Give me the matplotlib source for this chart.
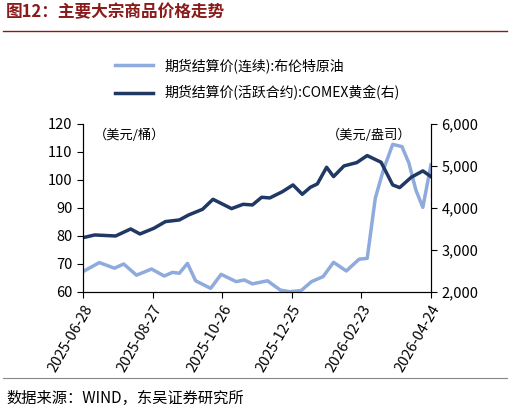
import matplotlib
matplotlib.use("Agg")
import matplotlib.pyplot as plt
import pandas as pd

plt.rcParams['font.family'] = ['Noto Sans CJK SC', 'DejaVu Sans']

start = pd.Timestamp('2025-06-28')
oil_days = [0,14,27,35,46,59,70,77,83,90,97,110,119,132,139,146,159,170,178,188,197,207,216,227,238,245,252,259,267,275,281,287,293,300]
oil_vals = [67.3,70.5,68.5,70,66,68.2,65.7,67,66.7,70.2,64,61.3,66.3,63.7,64.3,62.9,64,60.7,60.1,60.5,63.7,65.5,70.6,67.5,71.7,72,93.5,103.6,112.7,111.9,106,96.4,90.2,105.4]
gold_days = [0,10,28,41,49,61,71,83,91,103,112,128,138,146,154,161,172,181,189,196,202,210,216,225,236,245,257,267,273,283,293,300]
gold_vals = [3294,3357,3333,3500,3381,3516,3675,3714,3833,3968,4206,3984,4087,4071,4254,4238,4389,4548,4325,4492,4571,4968,4746,5000,5079,5246,5087,4548,4484,4730,4881,4746]
tick_labels = ['2025-06-28','2025-08-27','2025-10-26','2025-12-25','2026-02-23','2026-04-24']
oil_name = '期货结算价(连续):布伦特原油'
gold_name = '期货结算价(活跃合约):COMEX黄金(右)'

oil_x = start + pd.to_timedelta(oil_days, unit='D')
gold_x = start + pd.to_timedelta(gold_days, unit='D')

fig = plt.figure(figsize=(5.10, 4.13), dpi=100)
ax = fig.add_axes([0.163, 0.293, 0.682, 0.407])
ax2 = ax.twinx()
l1, = ax.plot(oil_x, oil_vals, color='#8FAADC', lw=2.5, solid_joinstyle='round')
l2, = ax2.plot(gold_x, gold_vals, color='#1F3864', lw=2.5, solid_joinstyle='round')
ax.set_ylim(60, 120); ax.set_yticks(range(60, 121, 10))
ax2.set_ylim(2000, 6000); ax2.set_yticks(range(2000, 6001, 1000))
ax2.set_yticklabels(['2,000','3,000','4,000','5,000','6,000'])
ticks = pd.to_datetime(tick_labels)
ax.set_xlim(ticks[0], ticks[-1])
ax.set_xticks(ticks)
ax.set_xticklabels(tick_labels, rotation=60, ha='right', rotation_mode='anchor', fontsize=10.5)
for a in (ax, ax2):
    a.spines['top'].set_visible(False)
    a.tick_params(labelsize=10.5, direction='out', length=4)
ax.text(0.03, 0.97, '（美元/桶）', transform=ax.transAxes, fontsize=9.5, va='top')
ax.text(0.7, 0.97, '（美元/盎司）', transform=ax.transAxes, fontsize=9.5, va='top')
fig.legend([l1, l2], [oil_name, gold_name], loc='upper left', bbox_to_anchor=(0.2, 0.89),
           frameon=False, fontsize=10, handlelength=2.8, labelspacing=0.9)
fig.text(0.012, 0.958, '图12：主要大宗商品价格走势', fontsize=12, fontweight='bold', color='#8B1A1A')
fig.add_artist(plt.Line2D([0.005, 0.995], [0.925, 0.925], color='#8B1A1A', lw=1))
fig.add_artist(plt.Line2D([0.005, 0.995], [0.085, 0.085], color='#888888', lw=0.8))
fig.text(0.012, 0.025, '数据来源：WIND，东吴证券研究所', fontsize=11)
fig.savefig('out.png', dpi=100)
